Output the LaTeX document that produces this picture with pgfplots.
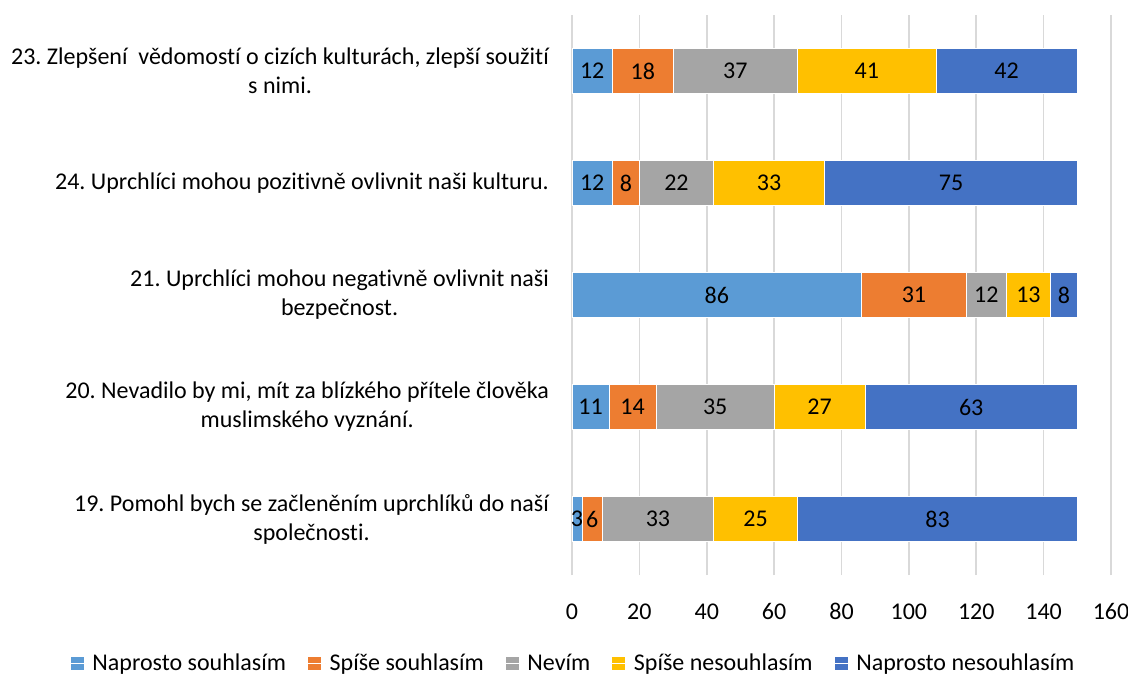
\documentclass[border=0pt]{standalone}
\usepackage{pgfplots}
\pgfplotsset{compat=1.18}
\usepackage{fontspec}
\setmainfont[Ligatures={NoCommon}]{Carlito}
\frenchspacing
\definecolor{c1}{HTML}{5B9BD5}
\definecolor{c2}{HTML}{ED7D31}
\definecolor{c3}{HTML}{A5A5A5}
\definecolor{c4}{HTML}{FFC000}
\definecolor{c5}{HTML}{4472C4}
\definecolor{gridc}{HTML}{D9D9D9}
\begin{document}
\begin{tikzpicture}
\path[use as bounding box] (0,0) rectangle (564pt,337.5pt);
\begin{axis}[
  at={(286pt,50pt)}, anchor=south west,
  scale only axis, width=269.5pt, height=280pt,
  xbar stacked, bar width=22.5pt,
  xmin=0, xmax=160, ymin=-0.5, ymax=4.5,
  xtick={0,20,...,160},
  ytick={0,1,2,3,4},
  yticklabels={{19. Pomohl bych se začleněním uprchlíků do naší\\společnosti.},
               {20. Nevadilo by mi, mít za blízkého přítele člověka\\muslimského vyznání.},
               {21. Uprchlíci mohou negativně ovlivnit naši\\bezpečnost.},
               {24. Uprchlíci mohou pozitivně ovlivnit naši kulturu.},
               {23. Zlepšení~ vědomostí o cizích kulturách, zlepší soužití\\s nimi.}},
  yticklabel style={align=center, font=\fontsize{12}{14.5}\selectfont, xshift=-8pt},
  xticklabel style={font=\fontsize{12}{14}\selectfont, text height=8pt, text depth=0pt, yshift=-10.5pt},
  /pgf/number format/assume math mode=true,
  major tick length=0pt,
  axis line style={draw=none},
  xmajorgrids, grid style={gridc, line width=0.8pt},
  legend style={at={(0.004,-0.158)}, anchor=center, draw=none, legend columns=-1,
    font=\fontsize{12}{14}\selectfont,
    /tikz/every even column/.append style={column sep=8.5pt}},
  legend image code/.code={\fill[#1] (0pt,-3.5pt) rectangle (7pt,3.5pt); \path (0pt,0pt) -- (9pt,0pt);},
  clip=false,
]
\addplot[fill=c1, draw=white, line width=0.3pt] coordinates {(3,0) (11,1) (86,2) (12,3) (12,4)};
\addplot[fill=c2, draw=white, line width=0.3pt] coordinates {(6,0) (14,1) (31,2) (8,3) (18,4)};
\addplot[fill=c3, draw=white, line width=0.3pt] coordinates {(33,0) (35,1) (12,2) (22,3) (37,4)};
\addplot[fill=c4, draw=white, line width=0.3pt] coordinates {(25,0) (27,1) (13,2) (33,3) (41,4)};
\addplot[fill=c5, draw=white, line width=0.3pt] coordinates {(83,0) (63,1) (8,2) (75,3) (42,4)};
\legend{Naprosto souhlasím, Spíše souhlasím, Nevím, Spíše nesouhlasím, Naprosto nesouhlasím}
\end{axis}
\begin{axis}[
  at={(286pt,50pt)}, anchor=south west,
  scale only axis, width=269.5pt, height=280pt,
  xmin=0, xmax=160, ymin=-0.5, ymax=4.5,
  hide axis, clip=false,
]
\addplot[only marks, mark=none, point meta=explicit symbolic, nodes near coords,
  nodes near coords align={center},
  every node near coord/.append style={anchor=center, font=\fontsize{12}{14}\selectfont, inner sep=0pt}]
  coordinates {
  (1.5,0)[3] (6,0)[6] (25.5,0)[33] (54.5,0)[25] (108.5,0)[83]
  (5.5,1)[11] (18,1)[14] (42.5,1)[35] (73.5,1)[27] (118.5,1)[63]
  (43,2)[86] (101.5,2)[31] (123,2)[12] (135.5,2)[13] (146,2)[8]
  (6,3)[12] (16,3)[8] (31,3)[22] (58.5,3)[33] (112.5,3)[75]
  (6,4)[12] (21,4)[18] (48.5,4)[37] (87.5,4)[41] (129,4)[42]
  };
\end{axis}
\end{tikzpicture}
\end{document}
